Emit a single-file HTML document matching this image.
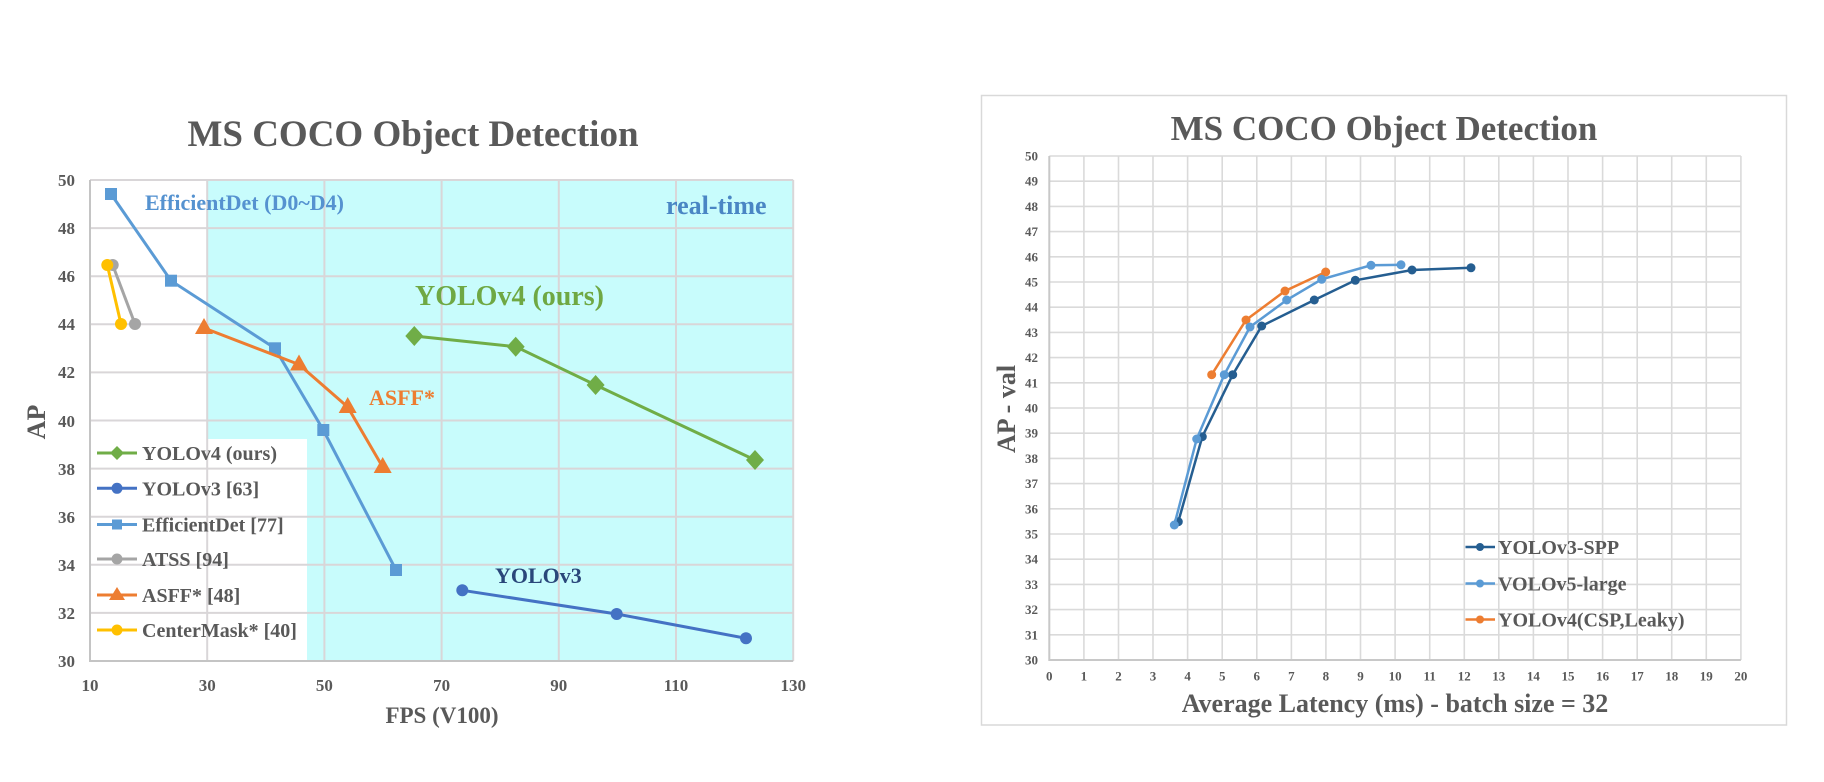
<!DOCTYPE html>
<html>
<head>
<meta charset="utf-8">
<style>
  html,body{margin:0;padding:0;background:#ffffff;}
  svg{display:block;}
  text{font-family:"Liberation Serif","Times New Roman",serif;font-weight:bold;}
</style>
</head>
<body>
<svg width="1824" height="782" viewBox="0 0 1824 782" xmlns="http://www.w3.org/2000/svg">
  <rect x="0" y="0" width="1824" height="782" fill="#ffffff"/>

  <!-- ================= LEFT CHART ================= -->
  <text x="413" y="146" font-size="37" fill="#595959" text-anchor="middle">MS COCO Object Detection</text>

  <!-- cyan real-time region -->
  <rect x="207.5" y="180" width="586" height="481" fill="#c8fcfc"/>
  <!-- white legend area -->
  <rect x="90" y="439" width="217" height="222" fill="#ffffff"/>

  <!-- grid -->
  <path d="M207.2 180V661 M324.4 180V661 M441.6 180V661 M558.8 180V661 M676 180V661 M793.2 180V661
           M90 180H793.2 M90 228.1H793.2 M90 276.2H793.2 M90 324.3H793.2 M90 372.4H793.2 M90 420.5H793.2
           M90 468.6H793.2 M90 516.7H793.2 M90 564.8H793.2 M90 612.9H793.2"
        stroke="#d9d6d8" stroke-width="2" fill="none"/>
  <path d="M90 180V661 H793.2" stroke="#c4c4c4" stroke-width="2" fill="none"/>

  <!-- y tick labels -->
  <g font-size="17" fill="#595959" text-anchor="end">
    <text x="75" y="186">50</text>
    <text x="75" y="234">48</text>
    <text x="75" y="282">46</text>
    <text x="75" y="330">44</text>
    <text x="75" y="378">42</text>
    <text x="75" y="427">40</text>
    <text x="75" y="475">38</text>
    <text x="75" y="523">36</text>
    <text x="75" y="571">34</text>
    <text x="75" y="619">32</text>
    <text x="75" y="667">30</text>
  </g>
  <!-- x tick labels -->
  <g font-size="17" fill="#595959" text-anchor="middle">
    <text x="90" y="691">10</text>
    <text x="207.2" y="691">30</text>
    <text x="324.4" y="691">50</text>
    <text x="441.6" y="691">70</text>
    <text x="558.8" y="691">90</text>
    <text x="676" y="691">110</text>
    <text x="793.2" y="691">130</text>
  </g>
  <text x="442" y="723" font-size="23" fill="#595959" text-anchor="middle">FPS (V100)</text>
  <text transform="translate(45,422) rotate(-90)" font-size="26" fill="#595959" text-anchor="middle">AP</text>

  <!-- annotations -->
  <text x="145" y="210" font-size="22" fill="#5592d0">EfficientDet (D0~D4)</text>
  <text x="666" y="214" font-size="26" fill="#4a86c4">real-time</text>
  <text x="415" y="305" font-size="28" fill="#6fa843">YOLOv4 (ours)</text>
  <text x="369" y="405" font-size="22" fill="#ed7d31">ASFF*</text>
  <text x="495" y="583" font-size="22" fill="#2a477a">YOLOv3</text>

  <!-- ATSS -->
  <polyline points="112.7,265 135,324" fill="none" stroke="#a5a5a5" stroke-width="3"/>
  <circle cx="112.7" cy="265" r="6" fill="#a5a5a5"/>
  <circle cx="135" cy="324" r="6" fill="#a5a5a5"/>
  <!-- CenterMask -->
  <polyline points="107.3,265 121,324" fill="none" stroke="#ffc000" stroke-width="3"/>
  <circle cx="107.3" cy="265" r="6" fill="#ffc000"/>
  <circle cx="121" cy="324" r="6" fill="#ffc000"/>

  <!-- EfficientDet -->
  <polyline points="111,194 171,280.7 275,348.3 323.3,430 396,570" fill="none" stroke="#5b9bd5" stroke-width="3"/>
  <g fill="#5b9bd5">
    <rect x="105" y="188" width="12" height="12"/>
    <rect x="165" y="274.7" width="12" height="12"/>
    <rect x="269" y="342.3" width="12" height="12"/>
    <rect x="317.3" y="424" width="12" height="12"/>
    <rect x="390" y="564" width="12" height="12"/>
  </g>

  <!-- ASFF -->
  <polyline points="204,328 299,364.5 347.7,407 382.7,467" fill="none" stroke="#ed7d31" stroke-width="3"/>
  <g fill="#ed7d31">
    <polygon points="204,318 195,334 213,334"/>
    <polygon points="299,354.5 290,370.5 308,370.5"/>
    <polygon points="347.7,397 338.7,413 356.7,413"/>
    <polygon points="382.7,457 373.7,473 391.7,473"/>
  </g>

  <!-- YOLOv4 -->
  <polyline points="414.3,336 515.7,346.7 595.6,385 755,460" fill="none" stroke="#70ad47" stroke-width="3"/>
  <g fill="#70ad47">
    <polygon points="414.3,326 423.3,336 414.3,346 405.3,336"/>
    <polygon points="515.7,336.7 524.7,346.7 515.7,356.7 506.7,346.7"/>
    <polygon points="595.6,375 604.6,385 595.6,395 586.6,385"/>
    <polygon points="755,450 764,460 755,470 746,460"/>
  </g>

  <!-- YOLOv3 -->
  <polyline points="462.3,590.3 616.7,614 746,638.3" fill="none" stroke="#4472c4" stroke-width="3"/>
  <g fill="#4472c4">
    <circle cx="462.3" cy="590.3" r="6"/>
    <circle cx="616.7" cy="614" r="6"/>
    <circle cx="746" cy="638.3" r="6"/>
  </g>

  <!-- legend -->
  <g stroke-width="3">
    <line x1="97" y1="453" x2="137" y2="453" stroke="#70ad47"/>
    <polygon points="117,446 124,453 117,460 110,453" fill="#70ad47"/>
    <line x1="97" y1="488.3" x2="137" y2="488.3" stroke="#4472c4"/>
    <circle cx="117" cy="488.3" r="5.5" fill="#4472c4"/>
    <line x1="97" y1="524.5" x2="137" y2="524.5" stroke="#5b9bd5"/>
    <rect x="112" y="519.5" width="10" height="10" fill="#5b9bd5"/>
    <line x1="97" y1="559" x2="137" y2="559" stroke="#a5a5a5"/>
    <circle cx="117" cy="559" r="5.5" fill="#a5a5a5"/>
    <line x1="97" y1="595" x2="137" y2="595" stroke="#ed7d31"/>
    <polygon points="117,587 109,600 125,600" fill="#ed7d31"/>
    <line x1="97" y1="630" x2="137" y2="630" stroke="#ffc000"/>
    <circle cx="117" cy="630" r="5.5" fill="#ffc000"/>
  </g>
  <g font-size="20" fill="#595959">
    <text x="142" y="460">YOLOv4 (ours)</text>
    <text x="142" y="495.3">YOLOv3 [63]</text>
    <text x="142" y="531.5">EfficientDet [77]</text>
    <text x="142" y="566">ATSS [94]</text>
    <text x="142" y="602">ASFF* [48]</text>
    <text x="142" y="637">CenterMask* [40]</text>
  </g>

  <!-- ================= RIGHT CHART ================= -->
  <rect x="981.5" y="95.5" width="805" height="629.5" fill="#ffffff" stroke="#d9d9d9" stroke-width="1.5"/>
  <text x="1384" y="140" font-size="35" fill="#595959" text-anchor="middle">MS COCO Object Detection</text>

  <path d="M1083.9 156V660 M1118.5 156V660 M1153 156V660 M1187.6 156V660 M1222.2 156V660 M1256.8 156V660
           M1291.4 156V660 M1325.9 156V660 M1360.5 156V660 M1395.1 156V660 M1429.7 156V660 M1464.3 156V660
           M1498.8 156V660 M1533.4 156V660 M1568 156V660 M1602.6 156V660 M1637.2 156V660 M1671.7 156V660
           M1706.3 156V660 M1740.9 156V660
           M1049.3 156H1740.9 M1049.3 181.2H1740.9 M1049.3 206.4H1740.9 M1049.3 231.6H1740.9 M1049.3 256.8H1740.9
           M1049.3 282H1740.9 M1049.3 307.2H1740.9 M1049.3 332.4H1740.9 M1049.3 357.6H1740.9 M1049.3 382.8H1740.9
           M1049.3 408H1740.9 M1049.3 433.2H1740.9 M1049.3 458.4H1740.9 M1049.3 483.6H1740.9 M1049.3 508.8H1740.9
           M1049.3 534H1740.9 M1049.3 559.2H1740.9 M1049.3 584.4H1740.9 M1049.3 609.6H1740.9 M1049.3 634.8H1740.9"
        stroke="#dadada" stroke-width="1.6" fill="none"/>
  <path d="M1049.3 156V660 H1740.9" stroke="#c8c8c8" stroke-width="2" fill="none"/>

  <!-- y ticks -->
  <g font-size="13" fill="#595959" text-anchor="end">
    <text x="1038" y="160.5">50</text>
    <text x="1038" y="185.7">49</text>
    <text x="1038" y="210.9">48</text>
    <text x="1038" y="236.1">47</text>
    <text x="1038" y="261.3">46</text>
    <text x="1038" y="286.5">45</text>
    <text x="1038" y="311.7">44</text>
    <text x="1038" y="336.9">43</text>
    <text x="1038" y="362.1">42</text>
    <text x="1038" y="387.3">41</text>
    <text x="1038" y="412.5">40</text>
    <text x="1038" y="437.7">39</text>
    <text x="1038" y="462.9">38</text>
    <text x="1038" y="488.1">37</text>
    <text x="1038" y="513.3">36</text>
    <text x="1038" y="538.5">35</text>
    <text x="1038" y="563.7">34</text>
    <text x="1038" y="588.9">33</text>
    <text x="1038" y="614.1">32</text>
    <text x="1038" y="639.3">31</text>
    <text x="1038" y="664.5">30</text>
  </g>
  <!-- x ticks -->
  <g font-size="13" fill="#595959" text-anchor="middle">
    <text x="1049.3" y="680.5">0</text>
    <text x="1083.9" y="680.5">1</text>
    <text x="1118.5" y="680.5">2</text>
    <text x="1153" y="680.5">3</text>
    <text x="1187.6" y="680.5">4</text>
    <text x="1222.2" y="680.5">5</text>
    <text x="1256.8" y="680.5">6</text>
    <text x="1291.4" y="680.5">7</text>
    <text x="1325.9" y="680.5">8</text>
    <text x="1360.5" y="680.5">9</text>
    <text x="1395.1" y="680.5">10</text>
    <text x="1429.7" y="680.5">11</text>
    <text x="1464.3" y="680.5">12</text>
    <text x="1498.8" y="680.5">13</text>
    <text x="1533.4" y="680.5">14</text>
    <text x="1568" y="680.5">15</text>
    <text x="1602.6" y="680.5">16</text>
    <text x="1637.2" y="680.5">17</text>
    <text x="1671.7" y="680.5">18</text>
    <text x="1706.3" y="680.5">19</text>
    <text x="1740.9" y="680.5">20</text>
  </g>
  <text x="1395" y="712" font-size="26" fill="#595959" text-anchor="middle">Average Latency (ms) - batch size = 32</text>
  <text transform="translate(1015,409) rotate(-90)" font-size="26" fill="#595959" text-anchor="middle">AP - val</text>

  <!-- YOLOv4 (CSP,Leaky) -->
  <polyline points="1211.7,374.7 1246,320 1285,291 1325.7,272" fill="none" stroke="#ed7d31" stroke-width="2.5"/>
  <g fill="#ed7d31">
    <circle cx="1211.7" cy="374.7" r="4.5"/>
    <circle cx="1246" cy="320" r="4.5"/>
    <circle cx="1285" cy="291" r="4.5"/>
    <circle cx="1325.7" cy="272" r="4.5"/>
  </g>
  <!-- YOLOv3-SPP -->
  <polyline points="1178.3,521.7 1202.3,436.7 1232.7,374.7 1261.7,326 1314.3,300 1355.3,280.3 1412,270 1471,267.8" fill="none" stroke="#255e91" stroke-width="2.5"/>
  <g fill="#255e91">
    <circle cx="1178.3" cy="521.7" r="4.5"/>
    <circle cx="1202.3" cy="436.7" r="4.5"/>
    <circle cx="1232.7" cy="374.7" r="4.5"/>
    <circle cx="1261.7" cy="326" r="4.5"/>
    <circle cx="1314.3" cy="300" r="4.5"/>
    <circle cx="1355.3" cy="280.3" r="4.5"/>
    <circle cx="1412" cy="270" r="4.5"/>
    <circle cx="1471" cy="267.8" r="4.5"/>
  </g>
  <!-- YOLOv5-large -->
  <polyline points="1174.3,525 1196.7,439 1224.3,374.7 1250,327 1286.7,300 1321.7,279.3 1371,265.3 1401,264.8" fill="none" stroke="#5b9bd5" stroke-width="2.5"/>
  <g fill="#5b9bd5">
    <circle cx="1174.3" cy="525" r="4.5"/>
    <circle cx="1196.7" cy="439" r="4.5"/>
    <circle cx="1224.3" cy="374.7" r="4.5"/>
    <circle cx="1250" cy="327" r="4.5"/>
    <circle cx="1286.7" cy="300" r="4.5"/>
    <circle cx="1321.7" cy="279.3" r="4.5"/>
    <circle cx="1371" cy="265.3" r="4.5"/>
    <circle cx="1401" cy="264.8" r="4.5"/>
  </g>

  <!-- right legend -->
  <g stroke-width="2.5">
    <line x1="1465.5" y1="547" x2="1495" y2="547" stroke="#255e91"/>
    <circle cx="1480" cy="547" r="4" fill="#255e91"/>
    <line x1="1465.5" y1="583.5" x2="1495" y2="583.5" stroke="#5b9bd5"/>
    <circle cx="1480" cy="583.5" r="4" fill="#5b9bd5"/>
    <line x1="1465.5" y1="619.5" x2="1495" y2="619.5" stroke="#ed7d31"/>
    <circle cx="1480" cy="619.5" r="4" fill="#ed7d31"/>
  </g>
  <g font-size="20" fill="#595959">
    <text x="1498" y="554">YOLOv3-SPP</text>
    <text x="1498" y="590.5">VOLOv5-large</text>
    <text x="1498" y="626.5">YOLOv4(CSP,Leaky)</text>
  </g>
</svg>
</body>
</html>
